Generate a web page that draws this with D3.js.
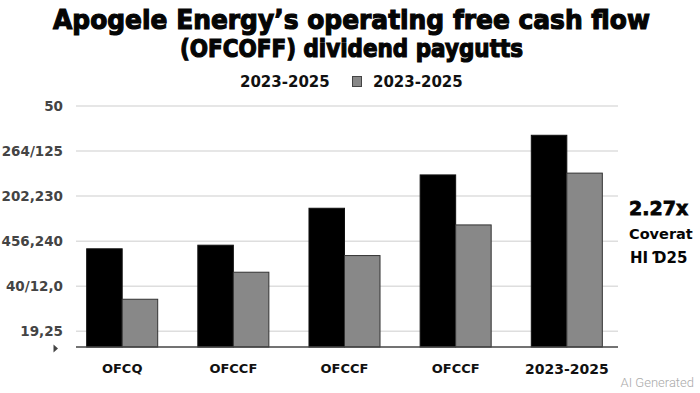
<!DOCTYPE html>
<html>
<head>
<meta charset="utf-8">
<script src="https://cdn.jsdelivr.net/npm/d3@7"></script>
<style>
body { margin: 0; background: #fff; }
svg { display: block; }
</style>
</head>
<body>
<script>
////Data
var categories = ["OFCQ","OFCCF ","OFCCF  ","OFCCF","2023-2025"] //x labels (spaces keep the band keys unique)
var ofcfValues = [21.8,22.6,30.8,38.2,47.0] //Black bars
var payoutValues = [10.6,16.6,20.3,27.1,38.6] //Gray bars
var tickValues = [3.5,13.5,23.5,33.5,43.5,53.5] //Where the gridlines sit
var tickLabels = ["19,25","40/12,0","456,240","202,230","264/125","50"] //Labels shown on them
var legendLabels = ["2023-2025","2023-2025"]
var sideNote = ["2.27x","Coverat","HI  \u018A25"]

////Canvas
var width = 700, height = 393
var svg = d3.select("body").append("svg").attr("width",width).attr("height",height)

var plotLeft = 76, plotRight = 618, plotTop = 106, plotBottom = 347

///Scales
var x0 = d3.scaleBand().domain(categories).range([plotLeft,613]).paddingInner(0.361).paddingOuter(0.096)
var x1 = d3.scaleBand().domain(["ofcf","payout"]).range([0,x0.bandwidth()])
var y = d3.scaleLinear().domain([0,53.5]).range([plotBottom,plotTop])

////Title
var title = svg.append("g").attr("font-family","'DejaVu Sans'").attr("font-weight","bold").attr("fill","#050505")
    .attr("text-anchor","middle").attr("stroke","#050505").attr("stroke-width",1.2)
title.append("text").attr("x",351.5).attr("y",28.5).attr("font-size",27)
    .attr("textLength",597).attr("lengthAdjust","spacingAndGlyphs")
    .text("Apogele Energy\u2019s operating free cash flow")
title.append("text").attr("x",351.5).attr("y",57).attr("font-size",24)
    .attr("textLength",343).attr("lengthAdjust","spacingAndGlyphs")
    .text("(OFCOFF) dividend paygutts")

////Legend (first entry has no visible swatch in the original)
var legend = svg.append("g").attr("font-family","'DejaVu Sans'").attr("font-weight","bold").attr("font-size",15).attr("fill","#111")
legend.append("text").attr("x",240).attr("y",87).text(legendLabels[0])
legend.append("rect").attr("x",352.5).attr("y",76.5).attr("width",9).attr("height",10)
    .attr("fill","#888").attr("stroke","#444").attr("stroke-width",1)
legend.append("text").attr("x",373).attr("y",87).text(legendLabels[1])

////Gridlines and y labels
var grid = svg.append("g")
grid.selectAll("line").data(tickValues).enter().append("line")
    .attr("x1",plotLeft).attr("x2",plotRight)
    .attr("y1",function(d){return y(d)}).attr("y2",function(d){return y(d)})
    .attr("stroke","#dedede").attr("stroke-width",1.5)

svg.append("g").selectAll("text").data(tickValues).enter().append("text")
    .attr("x",63).attr("y",function(d){return y(d)+5})
    .attr("text-anchor","end").attr("font-family","'DejaVu Sans'").attr("font-weight","bold")
    .attr("font-size",13.5).attr("fill","#444")
    .text(function(d,i){return tickLabels[i]})

///Little marker at the left end of the baseline
svg.append("path").attr("d","M53.5,344.5 L58,348.5 L53.5,352.5 Z").attr("fill","#444")

////Bars
var groups = svg.append("g").selectAll("g").data(categories).enter().append("g")
    .attr("transform",function(d){return "translate("+x0(d)+",0)"})

groups.append("rect") //OFCF bars
    .attr("x",x1("ofcf")).attr("width",x1.bandwidth())
    .attr("y",function(d,i){return y(ofcfValues[i])})
    .attr("height",function(d,i){return plotBottom-y(ofcfValues[i])})
    .attr("fill","#000").attr("stroke","#111").attr("stroke-width",1)

groups.append("rect") //Payout bars
    .attr("x",x1("payout")).attr("width",x1.bandwidth())
    .attr("y",function(d,i){return y(payoutValues[i])})
    .attr("height",function(d,i){return plotBottom-y(payoutValues[i])})
    .attr("fill","#888").attr("stroke","#333").attr("stroke-width",1)

///Baseline
svg.append("line").attr("x1",plotLeft).attr("x2",plotRight).attr("y1",plotBottom).attr("y2",plotBottom)
    .attr("stroke","#444").attr("stroke-width",1.5)

////X labels
svg.append("g").selectAll("text").data(categories).enter().append("text")
    .attr("x",function(d){return x0(d)+x0.bandwidth()/2})
    .attr("y",function(d,i){return i==4 ? 374 : 373.3})
    .attr("text-anchor","middle").attr("font-family","'DejaVu Sans'").attr("font-weight","bold")
    .attr("font-size",function(d,i){return i==4 ? 14 : 13}).attr("fill","#111")
    .text(function(d){return d.trim()})

////Side note
var note = svg.append("g").attr("font-family","'DejaVu Sans'").attr("font-weight","bold").attr("fill","#050505")
note.append("text").attr("x",629).attr("y",215).attr("font-size",19).attr("stroke","#050505").attr("stroke-width",0.8).text(sideNote[0])
note.append("text").attr("x",629).attr("y",239).attr("font-size",14.5).text(sideNote[1])
note.append("text").attr("x",630).attr("y",263.3).attr("font-size",15).text(sideNote[2])

////Watermark
svg.append("text").attr("x",694).attr("y",387.3).attr("text-anchor","end")
    .attr("font-family","Roboto").attr("font-weight",300).attr("font-size",13).attr("fill","#aaa")
    .text("AI Generated")
</script>
</body>
</html>
